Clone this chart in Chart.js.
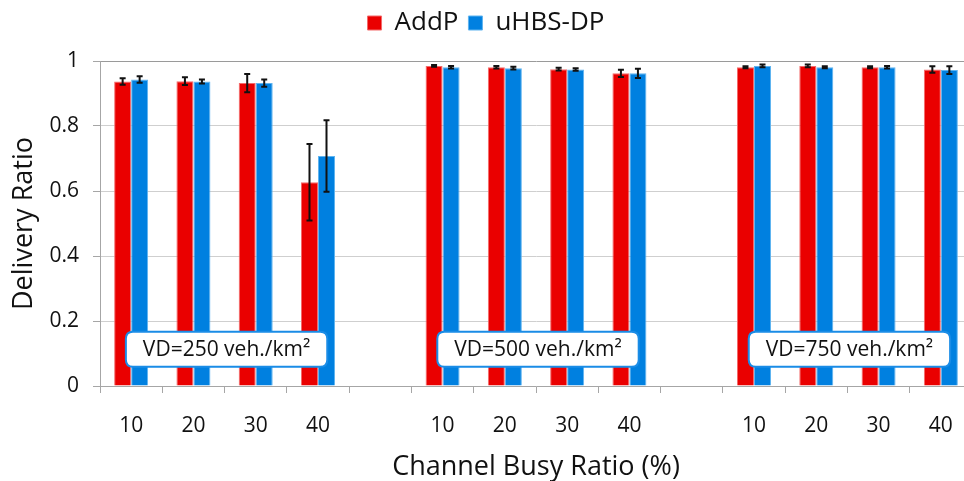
<!DOCTYPE html>
<html><head><meta charset="utf-8">
<script src="https://cdn.jsdelivr.net/npm/chart.js@4.4.1/dist/chart.umd.min.js"></script>
<style>
html,body{margin:0;padding:0;background:#fff;overflow:hidden;width:964px;height:481px}
#wrap{width:975px;height:481px}
</style></head>
<body><div id="wrap"><canvas id="c" width="975" height="481"></canvas></div>
<script>
// ---- data ----
const categories = ['10','20','30','40','','10','20','30','40','','10','20','30','40'];
const addP      = [0.937,0.938,0.932,0.627,null,0.985,0.981,0.975,0.962,null,0.981,0.985,0.981,0.974];
const addPErr   = [0.010,0.012,0.028,0.118,null,0.003,0.004,0.004,0.011,null,0.003,0.004,0.003,0.010];
const uhbsDP    = [0.943,0.937,0.932,0.708,null,0.981,0.978,0.974,0.962,null,0.985,0.981,0.981,0.972];
const uhbsDPErr = [0.010,0.006,0.011,0.110,null,0.004,0.004,0.004,0.014,null,0.004,0.003,0.004,0.012];
const seriesNames = ['AddP','uHBS-DP'];
const densityLabels = ['VD=250 veh./km²','VD=500 veh./km²','VD=750 veh./km²'];
const densityGroups = [[0,3],[5,8],[10,13]];
const yTitle = 'Delivery Ratio';
const xTitle = 'Channel Busy Ratio (%)';

const FONT = "'Open Sans', sans-serif";
const TXT = '#111';

const legendGap = {
  id: 'legendGap',
  afterInit(chart) {
    const lg = chart.legend;
    if (!lg || lg._gapPatched) return;
    const orig = lg.fit;
    lg.fit = function () { orig.apply(this, arguments); this.height += 15; };
    lg._gapPatched = true;
  }
};

const errorBars = {
  id: 'errorBars',
  afterDatasetsDraw(chart) {
    const ctx = chart.ctx, y = chart.scales.y;
    const errs = [addPErr, uhbsDPErr];
    chart.data.datasets.forEach((ds, di) => {
      const meta = chart.getDatasetMeta(di);
      meta.data.forEach((bar, i) => {
        const v = ds.data[i];
        if (v == null) return;
        const e = errs[di][i];
        const t = y.getPixelForValue(v + e), b = y.getPixelForValue(v - e);
        ctx.save();
        ctx.strokeStyle = '#111';
        ctx.lineWidth = 2;
        ctx.beginPath();
        ctx.moveTo(bar.x, t); ctx.lineTo(bar.x, b);
        ctx.moveTo(bar.x - 3, t); ctx.lineTo(bar.x + 3, t);
        ctx.moveTo(bar.x - 3, b); ctx.lineTo(bar.x + 3, b);
        ctx.stroke();
        ctx.restore();
      });
    });
  }
};

const densityBoxes = {
  id: 'densityBoxes',
  afterDraw(chart) {
    const ctx = chart.ctx, x = chart.scales.x, y = chart.scales.y;
    ctx.save();
    ctx.font = "21px " + FONT;
    densityLabels.forEach((txt, k) => {
      const [a, b] = densityGroups[k];
      const cx = (x.getPixelForValue(a) + x.getPixelForValue(b)) / 2 + 2;
      const cy = y.getPixelForValue(0.113);
      const w = ctx.measureText(txt).width + 34, h = 35, r = 7;
      const l = cx - w / 2, t = cy - h / 2;
      ctx.beginPath();
      ctx.moveTo(l + r, t);
      ctx.lineTo(l + w - r, t); ctx.quadraticCurveTo(l + w, t, l + w, t + r);
      ctx.lineTo(l + w, t + h - r); ctx.quadraticCurveTo(l + w, t + h, l + w - r, t + h);
      ctx.lineTo(l + r, t + h); ctx.quadraticCurveTo(l, t + h, l, t + h - r);
      ctx.lineTo(l, t + r); ctx.quadraticCurveTo(l, t, l + r, t);
      ctx.closePath();
      ctx.fillStyle = '#fff'; ctx.fill();
      ctx.strokeStyle = '#1a8ce6'; ctx.lineWidth = 2; ctx.stroke();
      ctx.fillStyle = TXT; ctx.textAlign = 'center'; ctx.textBaseline = 'middle';
      ctx.fillText(txt, cx, cy + 1);
    });
    ctx.restore();
  }
};

new Chart(document.getElementById('c'), {
  type: 'bar',
  data: {
    labels: categories,
    datasets: [
      { label: seriesNames[0], data: addP, backgroundColor: '#ea0000', borderColor: '#f46a6a', borderWidth: 1 },
      { label: seriesNames[1], data: uhbsDP, backgroundColor: '#0080e0', borderColor: '#5fb4f0', borderWidth: 1 }
    ]
  },
  options: {
    responsive: false,
    devicePixelRatio: 1,
    animation: false,
    layout: { padding: { left: 0, right: 3, top: 0, bottom: 0 } },
    datasets: { bar: { categoryPercentage: 0.546, barPercentage: 1.0 } },
    plugins: {
      legend: {
        position: 'top',
        labels: { font: { family: FONT, size: 26 }, color: TXT, boxWidth: 14, boxHeight: 14, padding: 10 }
      },
      tooltip: { enabled: false }
    },
    scales: {
      x: {
        afterFit(s) { s.height = 95; },
        grid: { display: true, drawOnChartArea: false, offset: true, tickLength: 7, color: '#a6a6a6' },
        border: { color: '#a6a6a6', width: 1 },
        ticks: { font: { family: FONT, size: 21 }, color: TXT, padding: 20, maxRotation: 0, autoSkip: false },
        title: { display: true, text: xTitle, font: { family: FONT, size: 27, lineHeight: 1 }, color: TXT, padding: { top: 0, bottom: 0 } }
      },
      y: {
        min: 0, max: 1,
        afterFit(s) { s.width = 100; },
        grid: { color: c => (c.tick && c.tick.value === 1) ? '#9a9a9a' : '#cfcfcf', tickLength: 7, tickColor: '#a6a6a6' },
        border: { color: '#a6a6a6', width: 1 },
        ticks: { stepSize: 0.2, font: { family: FONT, size: 21 }, color: TXT, padding: 14,
                 callback: v => String(+(+v).toFixed(1)) },
        title: { display: true, text: yTitle, font: { family: FONT, size: 27 }, color: TXT, padding: { top: 8, bottom: 0 } }
      }
    }
  },
  plugins: [legendGap, errorBars, densityBoxes]
});
</script>
</body></html>
